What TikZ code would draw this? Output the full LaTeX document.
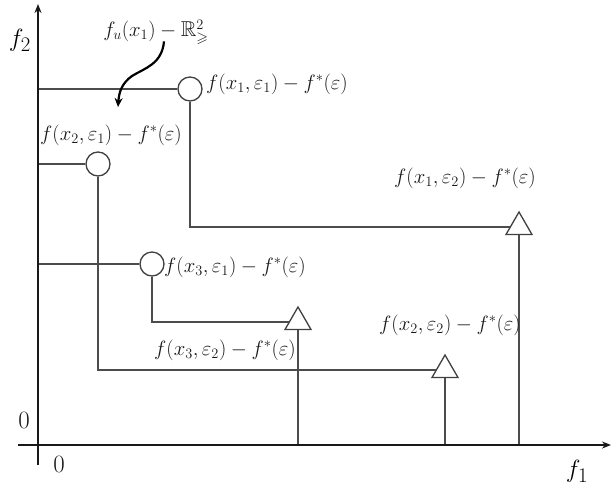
\documentclass[tikz,border=0pt]{standalone}
\usepackage{amssymb}
\usetikzlibrary{shapes.geometric,arrows.meta}
\begin{document}
\begin{tikzpicture}[x=1pt,y=-1pt,
  axis/.style={line width=2.5pt,black!90},
  link/.style={line width=1.3pt,black!70},
  pt/.style={circle,draw=black!75,line width=1.3pt,minimum size=24pt,inner sep=0pt,fill=white},
  tri/.style={regular polygon,regular polygon sides=3,draw=black!75,line width=1.3pt,minimum size=30pt,inner sep=0pt,fill=white},
  lab/.style={inner sep=1pt,text=black!90,font=\fontsize{20.5}{22}\selectfont},
  ax/.style={inner sep=1pt,font=\fontsize{31}{33}\selectfont},
  zero/.style={inner sep=1pt,text=black!90,font=\fontsize{27}{29}\selectfont}]
\useasboundingbox (0,0) rectangle (611,488);
\coordinate (O) at (38,445);
\coordinate (xs) at (18,445);
\coordinate (xe) at (611,445);
\coordinate (ys) at (38,465);
\coordinate (ye) at (38,4);
% points
\node[pt] (c1) at (190,89) {};
\node[pt] (c2) at (98,164) {};
\node[pt] (c3) at (152,264) {};
\node[tri] (t1) at (519,227) {};
\node[tri] (t2) at (445,370) {};
\node[tri] (t3) at (298,322) {};
% connectors
\draw[link] (c1 -| O) -- (c1);
\draw[link] (c2 -| O) -- (c2);
\draw[link] (c3 -| O) -- (c3);
\draw[link] (c1.south) |- (t1);
\draw[link] (c2.south) |- (t2);
\draw[link] (c3.south) |- (t3);
\draw[link] (t1.south) -- (t1.south |- O);
\draw[link] (t2.south) -- (t2.south |- O);
\draw[link] (t3.south) -- (t3.south |- O);
% axes
\draw[axis,-{Stealth[length=9pt,width=7pt]}] (xs) -- (xe);
\draw[axis,-{Stealth[length=9pt,width=7pt]}] (ys) -- (ye);
% labels
\node[ax] (f2) at (20,40) {$f_2$};
\node[ax] (f1) at (577,471) {$f_1$};
\node[zero] (z1) at (24,420) {$0$};
\node[zero] (z2) at (59,464) {$0$};
\node[lab,font=\fontsize{21.5}{23}\selectfont] (fu) at (156,32) {$f_u(x_1)-\mathbb{R}^{2}_{\geqslant}$};
\node[lab,anchor=west] (l1) at (205,84) {$f(x_1,\varepsilon_1)-f^{*}(\varepsilon)$};
\node[lab] (l2) at (111,135) {$f(x_2,\varepsilon_1)-f^{*}(\varepsilon)$};
\node[lab] (l3) at (465,178) {$f(x_1,\varepsilon_2)-f^{*}(\varepsilon)$};
\node[lab,anchor=west] (l4) at (163,267) {$f(x_3,\varepsilon_1)-f^{*}(\varepsilon)$};
\node[lab] (l5) at (225,350) {$f(x_3,\varepsilon_2)-f^{*}(\varepsilon)$};
\node[lab] (l6) at (450,325) {$f(x_2,\varepsilon_2)-f^{*}(\varepsilon)$};
% curved arrow
\coordinate (tip) at (118,107);
\draw[line width=2.2pt,-{Stealth[length=9pt,width=8pt]}] ([xshift=8pt,yshift=4pt]fu.south) .. controls (162,64) and (145,68) .. (132,76) .. controls (122,83) and (119,92) .. (tip);
\end{tikzpicture}
\end{document}
